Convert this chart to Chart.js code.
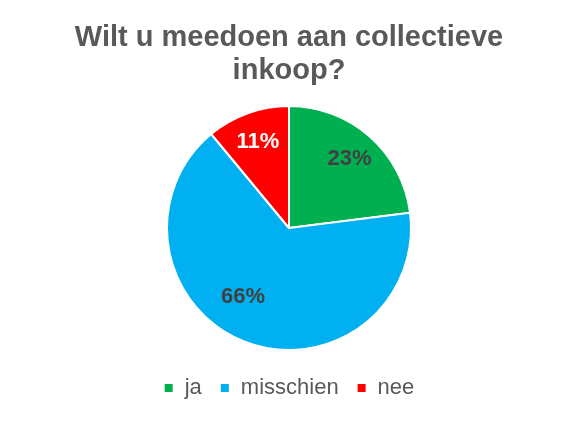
<!DOCTYPE html>
<html>
<head>
  <meta charset="utf-8">
  <title>Collectieve inkoop</title>
  <script src="https://cdn.jsdelivr.net/npm/chart.js@4"></script>
  <style>
    html, body { margin: 0; padding: 0; background: #fff; }
    #wrap { width: 578px; height: 434px; }
  </style>
</head>
<body>
  <div id="wrap"><canvas id="pie"></canvas></div>
  <script>
    // data
    const categories = ['ja', 'misschien', 'nee'];
    const shares = [23, 66, 11];
    const titleLines = ['Wilt u meedoen aan collectieve', 'inkoop?'];

    const sliceColors = ['#00B050', '#00B0F0', '#FF0000'];
    const labelColors = ['#404040', '#404040', '#FFFFFF'];
    // small nudges so labels sit where the original had them
    const labelAngleShift = [0, 0.21, 0];
    const labelDist = [0.75, 0.68, 0.75];

    const pctLabels = {
      id: 'pctLabels',
      afterDatasetsDraw(chart) {
        const ctx = chart.ctx;
        const meta = chart.getDatasetMeta(0);
        ctx.save();
        ctx.font = 'bold 22px "Liberation Sans", Arial, sans-serif';
        ctx.textAlign = 'center';
        ctx.textBaseline = 'middle';
        meta.data.forEach((arc, i) => {
          const p = arc.getProps(['x', 'y', 'startAngle', 'endAngle', 'outerRadius'], true);
          const mid = (p.startAngle + p.endAngle) / 2 + labelAngleShift[i];
          const r = p.outerRadius * labelDist[i];
          ctx.fillStyle = labelColors[i];
          ctx.fillText(shares[i] + '%', p.x + Math.cos(mid) * r, p.y + Math.sin(mid) * r);
        });
        ctx.restore();
      }
    };

    new Chart(document.getElementById('pie'), {
      type: 'pie',
      data: {
        labels: categories,
        datasets: [{
          data: shares,
          backgroundColor: sliceColors,
          borderColor: '#ffffff',
          borderWidth: 2
        }]
      },
      options: {
        responsive: true,
        maintainAspectRatio: false,
        animation: false,
        layout: { padding: { top: 0, bottom: 25 } },
        plugins: {
          title: {
            display: true,
            text: titleLines,
            color: '#595959',
            font: { family: '"Liberation Sans", Arial, sans-serif', size: 29, weight: 'bold', lineHeight: 33 / 29 },
            padding: { top: 21, bottom: 18 }
          },
          legend: {
            position: 'bottom',
            title: { display: true, text: '', padding: 0, font: { size: 8, lineHeight: 1 } },
            labels: {
              color: '#595959',
              font: { family: '"Liberation Sans", Arial, sans-serif', size: 22 },
              boxWidth: 10,
              boxHeight: 10,
              padding: 18
            }
          },
          tooltip: { enabled: false }
        }
      },
      plugins: [pctLabels]
    });
  </script>
</body>
</html>
